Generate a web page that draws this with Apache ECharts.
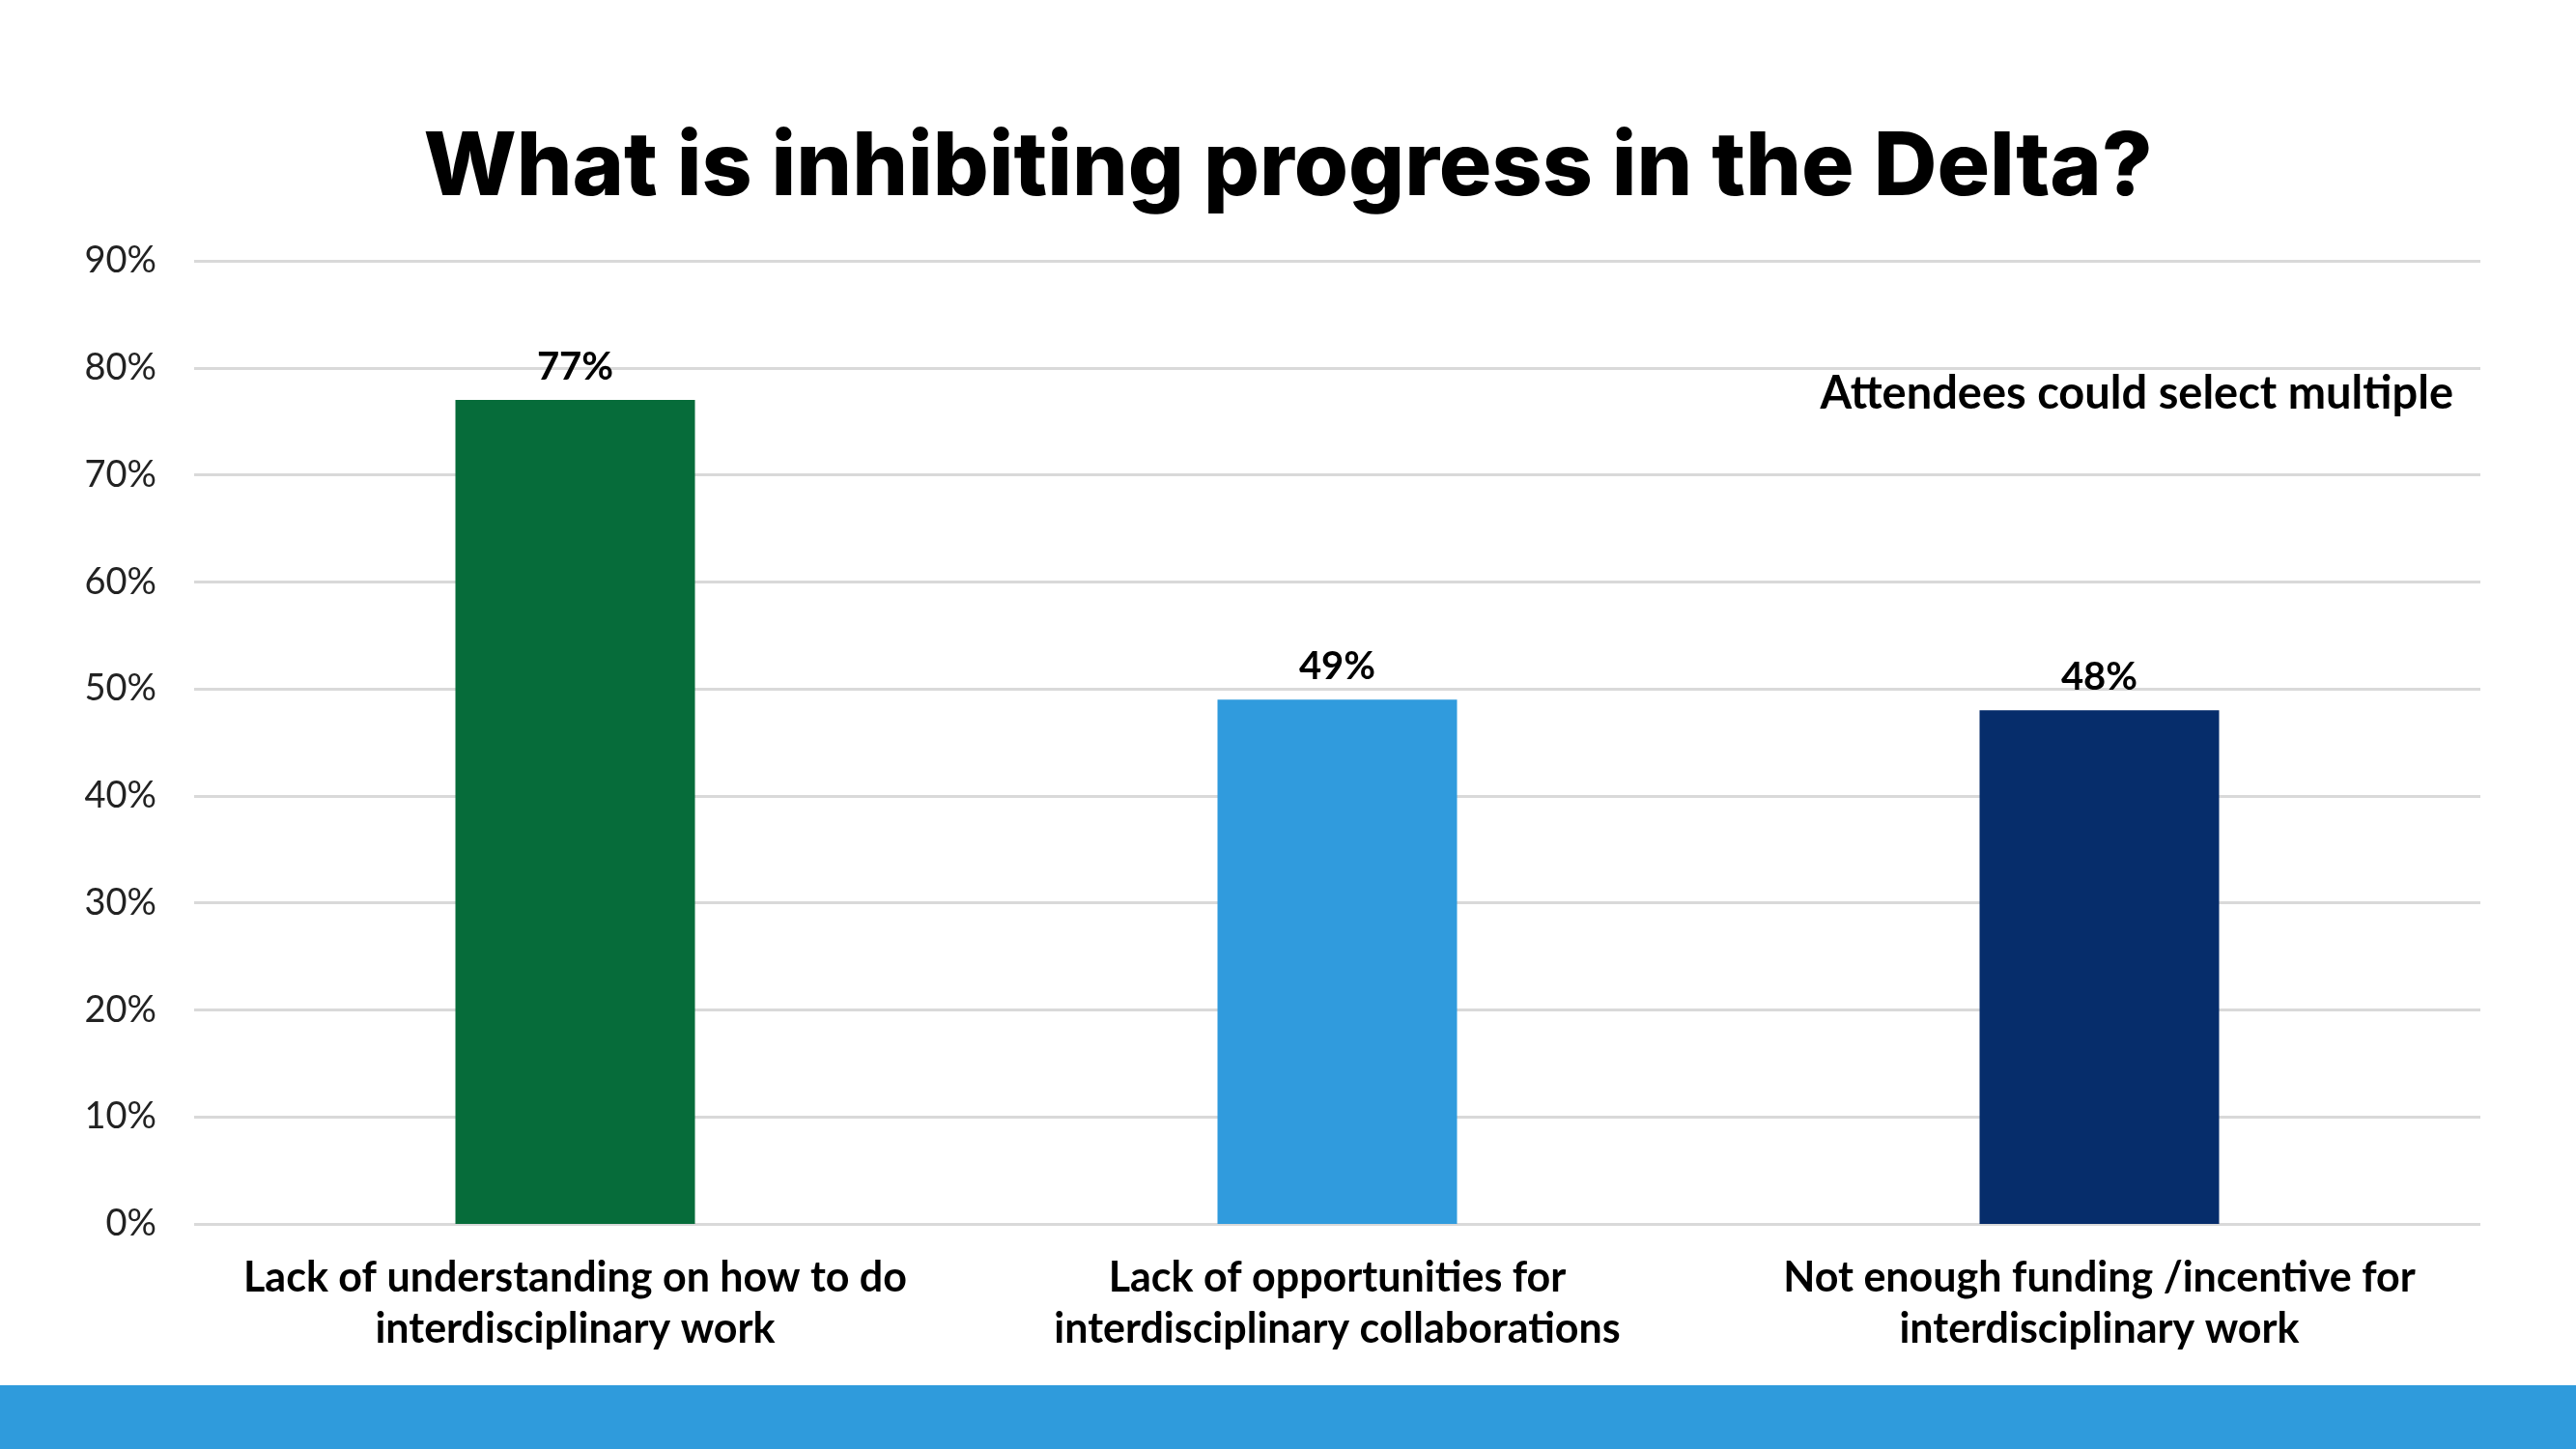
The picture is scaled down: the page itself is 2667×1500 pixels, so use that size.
<!DOCTYPE html>
<html>
<head>
	<meta charset="utf-8">
	<title>What is inhibiting progress in the Delta?</title>
	<script src="https://cdn.jsdelivr.net/npm/echarts@6/dist/echarts.min.js"></script>
	<style type="text/css">
		html,body{
			margin: 0;
			width: 100%;
			height: 100%;
			background: #ffffff;
			overflow: hidden;
		}
		#main{
			width: 2667px;
			height: 1500px;
		}
	</style>
</head>
<body>
<div id="main"></div>
<script>
    // 分类（x轴）
    var categories = [
        'Lack of understanding on how to do\ninterdisciplinary work',
        'Lack of opportunities for\ninterdisciplinary collaborations',
        'Not enough funding /incentive for\ninterdisciplinary work'
    ];
    // 百分比数值
    var values = [77, 49, 48];
    // 每根柱子的颜色
    var barColors = ['#066c3a', '#309bdd', '#062d6b'];
    // y轴刻度
    var yMin = 0, yMax = 90, yStep = 10;

    var myChart = echarts.init(document.getElementById('main'));

    var barData = [];
    for (var i = 0; i < values.length; i++) {
        barData.push({ value: values[i], itemStyle: { color: barColors[i] } });
    }

    var option = {
        backgroundColor: '#ffffff',
        title: {
            text: 'What is inhibiting progress in the Delta?',
            left: 'center',
            top: 124,
            textStyle: {
                fontFamily: 'Inter',
                fontWeight: 800,
                fontSize: 91,
                color: '#000000'
            }
        },
        grid: {
            left: 201,
            right: 99,
            top: 270,
            bottom: 233
        },
        xAxis: {
            type: 'category',
            data: categories,
            axisLine: { show: false },
            axisTick: { show: false },
            axisLabel: {
                margin: 30,
                interval: 0,
                fontFamily: 'Lato',
                fontWeight: 'bold',
                fontSize: 43,
                lineHeight: 53,
                color: '#000000'
            }
        },
        yAxis: {
            type: 'value',
            min: yMin,
            max: yMax,
            interval: yStep,
            axisLine: { show: false },
            axisTick: { show: false },
            axisLabel: {
                margin: 39,
                fontFamily: 'Lato',
                fontSize: 38,
                color: '#222222',
                formatter: '{value}%'
            },
            splitLine: {
                lineStyle: { color: '#d9d9d9', width: 3 }
            }
        },
        series: [
            {
                type: 'bar',
                data: barData,
                barWidth: 248,
                z: 3,
                label: {
                    show: true,
                    position: 'top',
                    distance: 14,
                    fontFamily: 'Lato',
                    fontWeight: 'bold',
                    fontSize: 40,
                    color: '#000000',
                    formatter: '{c}%'
                }
            }
        ],
        graphic: [
            {
                type: 'text',
                right: 127,
                top: 384,
                style: {
                    text: 'Attendees could select multiple',
                    fontFamily: 'Lato',
                    fontWeight: 'bold',
                    fontSize: 47,
                    fill: '#000000'
                }
            },
            {
                type: 'rect',
                left: 0,
                top: 1434,
                shape: { width: 2667, height: 66 },
                style: { fill: '#2f9bdc' }
            }
        ]
    };

    myChart.setOption(option);
</script>
</body>
</html>
